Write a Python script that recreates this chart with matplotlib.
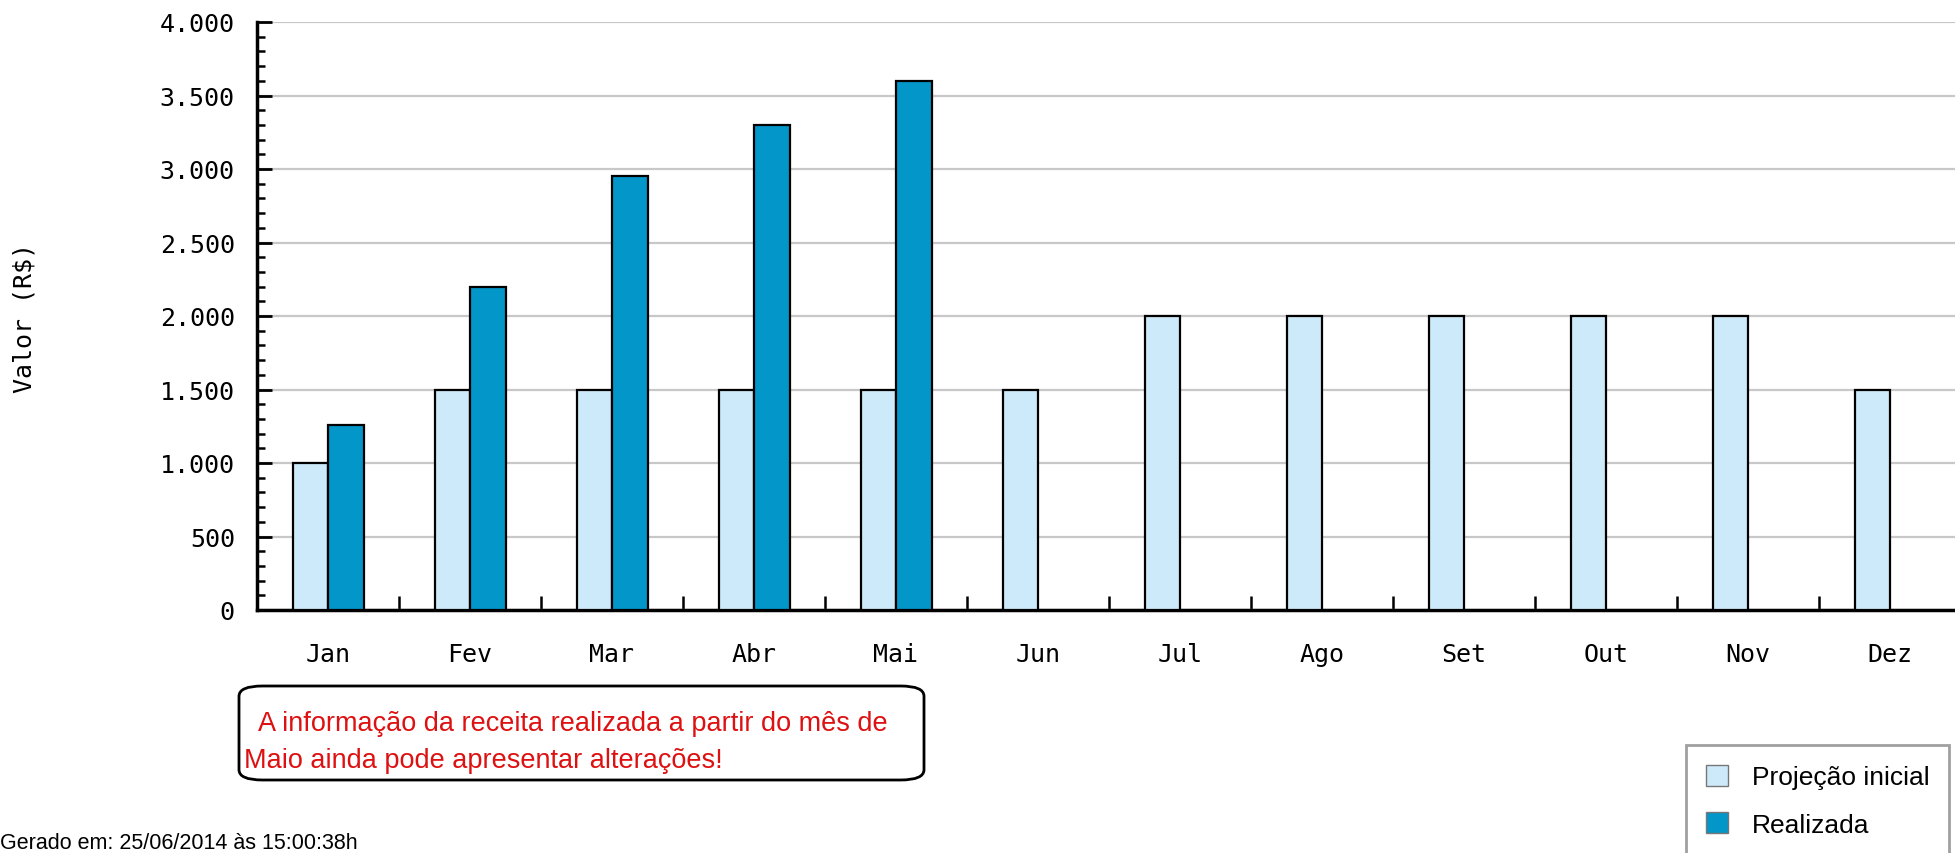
import numpy as np
import matplotlib
matplotlib.use("Agg")
import matplotlib.pyplot as plt
from matplotlib.patches import Patch, FancyBboxPatch
from matplotlib.ticker import MultipleLocator, FuncFormatter

# data
meses = ["Jan", "Fev", "Mar", "Abr", "Mai", "Jun", "Jul", "Ago", "Set", "Out", "Nov", "Dez"]
projecao = [1000, 1500, 1500, 1500, 1500, 1500, 2000, 2000, 2000, 2000, 2000, 1500]
realizada = [1260, 2200, 2950, 3300, 3600]

cor_proj = "#cdeafa"
cor_real = "#0396c8"

W, H = 1955, 854
fig = plt.figure(figsize=(W / 100, H / 100), dpi=100)

# axes box in pixels (left, top, right, bottom) -- right side runs off the image
L, T, R, B = 257, 23, 1961, 611
ax = fig.add_axes([L / W, 1 - B / H, (R - L) / W, (B - T) / H])

x = np.arange(len(meses))
bw = 0.25
ax.bar(x - bw / 2, projecao, bw, color=cor_proj, edgecolor="black", linewidth=1.6, zorder=3)
ax.bar(x[:len(realizada)] + bw / 2, realizada, bw, color=cor_real, edgecolor="black", linewidth=1.6, zorder=3)

ax.set_xlim(-0.5, len(meses) - 0.5)
ax.set_ylim(0, 4000)

mono = "DejaVu Sans Mono"
ax.set_xticks(x)
ax.set_xticklabels(meses, fontsize=18, family=mono)
ax.set_xticks(np.arange(len(meses)) + 0.5, minor=True)
ax.tick_params(axis="x", which="major", length=0, pad=23)
ax.tick_params(axis="x", which="minor", direction="in", length=10, width=1.8)

ax.yaxis.set_major_locator(MultipleLocator(500))
ax.yaxis.set_minor_locator(MultipleLocator(100))
ax.yaxis.set_major_formatter(FuncFormatter(lambda v, p: f"{v:,.0f}".replace(",", ".")))
ax.tick_params(axis="y", which="major", direction="in", length=11, width=2, pad=16, labelsize=18)
ax.tick_params(axis="y", which="minor", direction="in", length=6, width=1.8)
for lab in ax.get_yticklabels():
    lab.set_family(mono)

ax.grid(axis="y", which="major", color="#c8c8c8", linewidth=1.6)
ax.set_axisbelow(True)
for s in ["top", "right"]:
    ax.spines[s].set_visible(False)
ax.spines["left"].set_linewidth(2.5)
ax.spines["bottom"].set_linewidth(2.5)

fig.text(25 / W, 1 - 318 / H, "Valor (R$)", rotation=90, ha="center", va="center",
         fontsize=18, family=mono)

# aviso em vermelho
box = FancyBboxPatch((239 / W, 1 - 781 / H), (924 - 239) / W, (781 - 687) / H,
                     boxstyle="round,pad=0,rounding_size=0.012", transform=fig.transFigure,
                     facecolor="white", edgecolor="black", linewidth=2)
fig.patches.append(box)
fig.text(258 / W, 1 - 724 / H, "A informação da receita realizada a partir do mês de",
         color="#dd1111", fontsize=19.5, family="Liberation Sans", va="center")
fig.text(244 / W, 1 - 761 / H, "Maio ainda pode apresentar alterações!",
         color="#dd1111", fontsize=19.5, family="Liberation Sans", va="center")

handles = [Patch(facecolor=cor_proj, edgecolor="#777777", label="Projeção inicial"),
           Patch(facecolor=cor_real, edgecolor="#777777", label="Realizada")]
leg = fig.legend(handles=handles, loc="upper left", bbox_to_anchor=(1686 / W, 1 - 746 / H),
                 frameon=True, fancybox=False, edgecolor="#888888",
                 prop={"family": "Liberation Sans", "size": 19},
                 handlelength=0.85, handleheight=0.85, handletextpad=0.9,
                 labelspacing=0.85, borderpad=0.75, borderaxespad=0)
leg.get_frame().set_linewidth(2)

fig.text(0, 1 - 844 / H, "Gerado em: 25/06/2014 às 15:00:38h", fontsize=15.5,
         family="Liberation Sans", va="center")

fig.savefig("out.png", dpi=100)
